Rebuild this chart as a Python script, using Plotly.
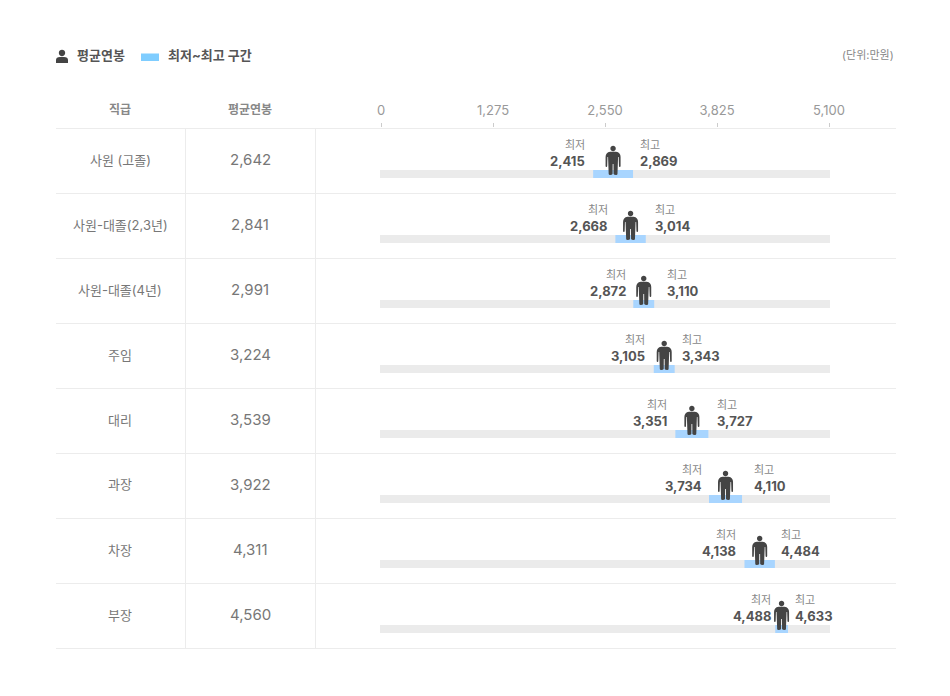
import plotly.graph_objects as go

# 직급별 연봉 (단위: 만원)
jobs = ["사원 (고졸)", "사원-대졸(2,3년)", "사원-대졸(4년)", "주임", "대리", "과장", "차장", "부장"]
avg_pay = [2642, 2841, 2991, 3224, 3539, 3922, 4311, 4560]
min_pay = [2415, 2668, 2872, 3105, 3351, 3734, 4138, 4488]
max_pay = [2869, 3014, 3110, 3343, 3727, 4110, 4484, 4633]
tick_vals = [0, 1275, 2550, 3825, 5100]
full_scale = [5100] * 8

# label offsets from the range ends, per row
low_shift = [-6, -5, -5, -7, -6, -5, -6, -2]
high_shift = [5, 7, 11, 5, 7, 10, 4, 5]

W, H = 934, 680  # body margin of the page is 8px
FONT = "Inter, Noto Sans CJK KR"
ROW_H = 65
TOP = 129
OVER = 11  # track sticks out a little past both ends of the scale


def fx(px):
    return (px - 8) / W


def fy(py):
    return 1 - (py - 8) / H


def row_y(i, py):
    return i + (py - TOP) / ROW_H


PERSON = (
    "M-2.7,26.5 C-2.7,28.3 -1.4,29.3 0,29.3 C1.4,29.3 2.7,28.3 2.7,26.5 "
    "C2.7,24.8 1.4,23.8 0,23.8 C-1.4,23.8 -2.7,24.8 -2.7,26.5 Z "
    "M-3,23.2 L3,23.2 Q7.5,22.5 7.5,18 L7.5,9 Q7.5,8 6.7,8 Q5.9,8 5.9,9 L5.6,18 L5,18 "
    "L4.4,1 Q4.4,0 3,0 Q1,0 0.5,1 L0.4,11 L-0.4,11 L-0.5,1 Q-1,0 -3,0 Q-4.4,0 -4.4,1 "
    "L-5,18 L-5.6,18 L-5.9,9 Q-5.9,8 -6.7,8 Q-7.5,8 -7.5,9 L-7.5,18 Q-7.5,22.5 -3,23.2 Z"
)

fig = go.Figure()

# gray track
fig.add_trace(go.Bar(
    x=[v + 2 * OVER for v in full_scale], y=[row_y(i, 174) for i in range(8)], base=-OVER,
    orientation="h", width=8 / ROW_H, marker=dict(color="#ebebeb", line_width=0),
    hoverinfo="skip",
))
# min-max range
fig.add_trace(go.Bar(
    x=[b - a for a, b in zip(min_pay, max_pay)], y=[row_y(i, 174) for i in range(8)], base=min_pay,
    orientation="h", width=8 / ROW_H, marker=dict(color="#a8d5ff", line_width=0),
    hoverinfo="skip",
))

shapes = []
annotations = []


def text(x, y, s, size, color, anchor="center", bold=False, xref="paper", yref="paper", xshift=0):
    annotations.append(dict(
        x=x, y=y, xref=xref, yref=yref, text=f"<b>{s}</b>" if bold else s, showarrow=False,
        xanchor=anchor, yanchor="middle", xshift=xshift,
        font=dict(family=FONT, size=size, color=color),
    ))


# table lines
LINE = "#ececec"
for i in range(9):
    py = TOP - 0.5 + i * ROW_H
    shapes.append(dict(type="line", xref="paper", yref="paper", x0=fx(56), x1=fx(896), y0=fy(py), y1=fy(py),
                       line=dict(color=LINE, width=1), layer="below"))
for px in [185.5, 315.5]:
    shapes.append(dict(type="line", xref="paper", yref="paper", x0=fx(px), x1=fx(px), y0=fy(TOP), y1=fy(649),
                       line=dict(color=LINE, width=1), layer="below"))

# header and legend
text(fx(120), fy(109.5), "직급", 12, "#888888", bold=True)
text(fx(250), fy(109.5), "평균연봉", 12, "#888888", bold=True)
text(fx(74.5), fy(55), "평균연봉", 13, "#555555", "left", bold=True)
text(fx(165.5), fy(55), "최저~최고 구간", 13, "#555555", "left", bold=True)
text(fx(896), fy(55), "(단위:만원)", 11, "#888888", "right")
shapes.append(dict(type="rect", xref="paper", yref="paper", x0=fx(141), x1=fx(159), y0=fy(61), y1=fy(53.5),
                   fillcolor="#7fcdff", line_width=0))
shapes.append(dict(type="path", xref="paper", yref="paper", xsizemode="pixel", ysizemode="pixel",
                   xanchor=fx(62), yanchor=fy(63),
                   path="M-3.2,10 C-3.2,12 -1.6,13.2 0,13.2 C1.6,13.2 3.2,12 3.2,10 C3.2,8 1.6,6.8 0,6.8 "
                        "C-1.6,6.8 -3.2,8 -3.2,10 Z M-6,0 L-6,3 Q-6,6 -2,6 L2,6 Q6,6 6,3 L6,0 Z",
                   fillcolor="#444444", line_width=0))

# rows
for i, job in enumerate(jobs):
    yc = TOP + i * ROW_H + 30.5
    text(fx(120), fy(yc), job, 13, "#777777")
    text(fx(250), fy(yc), f"{avg_pay[i]:,}", 15, "#777777")
    text(min_pay[i], row_y(i, 144.5), "최저", 11, "#888888", "right", xref="x", yref="y", xshift=low_shift[i])
    text(min_pay[i], row_y(i, 160.5), f"{min_pay[i]:,}", 13, "#555555", "right", bold=True, xref="x", yref="y", xshift=low_shift[i])
    text(max_pay[i], row_y(i, 144.5), "최고", 11, "#888888", "left", xref="x", yref="y", xshift=high_shift[i])
    text(max_pay[i], row_y(i, 160.5), f"{max_pay[i]:,}", 13, "#555555", "left", bold=True, xref="x", yref="y", xshift=high_shift[i])
    shapes.append(dict(type="path", xref="x", yref="y", xsizemode="pixel", ysizemode="pixel",
                       xanchor=avg_pay[i], yanchor=row_y(i, 175), path=PERSON,
                       fillcolor="#444444", line_width=0))

fig.update_layout(
    width=W, height=H, margin=dict(l=0, r=0, t=0, b=0, autoexpand=False),
    paper_bgcolor="white", plot_bgcolor="white",
    barmode="overlay", showlegend=False,
    font=dict(family=FONT),
    shapes=shapes, annotations=annotations,
    xaxis=dict(
        domain=[fx(380), fx(830)], range=[-11.4, 5111.4], side="top",
        tickmode="array", tickvals=tick_vals, ticktext=[f"{v:,}" for v in tick_vals],
        ticks="outside", ticklen=4, tickcolor="#cccccc", showgrid=False, zeroline=False, showline=False,
        tickfont=dict(family=FONT, size=13, color="#999999"), anchor="y", ticklabelstandoff=3,
    ),
    yaxis=dict(domain=[fy(649), fy(TOP - 1)], range=[8, -1 / ROW_H], visible=False),
)

fig.write_html("out.html")
